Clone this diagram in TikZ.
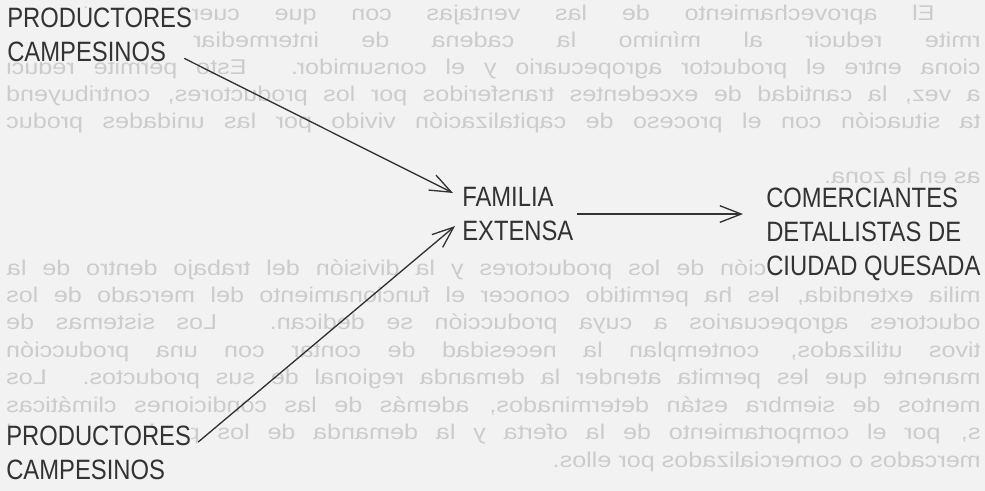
\documentclass[tikz,border=0pt]{standalone}
\usepackage{fontspec}
\usepackage{graphicx}
\usetikzlibrary{arrows.meta}
\newfontfamily\labfont[FakeStretch=0.85]{Liberation Sans}
\newfontfamily\bleedfont[FakeStretch=1.18]{Liberation Sans}
\definecolor{paper}{gray}{0.95}
\definecolor{ink}{gray}{0.2}
\definecolor{ghost}{gray}{0.80}
\newcommand{\fullrow}[1]{\reflectbox{\makebox[731pt][s]{#1}}}
\newcommand{\indrow}[1]{\reflectbox{\makebox[696pt][s]{#1}}}
\newcommand{\lastrow}[1]{\reflectbox{#1}}
\begin{document}
\begin{tikzpicture}[x=0.75pt,y=-0.75pt,
  lab/.style={font=\labfont\fontsize{21}{25.5}\selectfont, text=ink, align=left, inner sep=0pt, anchor=north west, fill=paper},
  ghosttext/.style={font=\bleedfont\fontsize{16}{20}\selectfont, text=ghost, inner sep=0pt, anchor=base east},
  arr/.style={draw=ink, line width=1pt, -{Straight Barb[length=16pt,width=12.5pt]}}]
\useasboundingbox (0,0) rectangle (985,491);
\fill[paper] (0,0) rectangle (985,491);
% show-through of the reverse page (mirrored, justified)
\begin{scope}
\clip (0,0) rectangle (985,491);
\node[ghosttext] (g1) at (935,21) {\indrow{El aprovechamiento de las ventajas con que cuentan estos g}};
\node[ghosttext] (g2) at (981,48) {\fullrow{rmite reducir al mínimo la cadena de intermediarios que ge}};
\node[ghosttext] (g3) at (981,75) {\fullrow{ciona entre el productor agropecuario y el consumidor. Esto permite reduci}};
\node[ghosttext] (g4) at (981,102) {\fullrow{a vez, la cantidad de excedentes transferidos por los productores, contribuyend}};
\node[ghosttext] (g5) at (981,129) {\fullrow{ta situación con el proceso de capitalización vivido por las unidades produc}};
\node[ghosttext] (g6) at (981,184) {\lastrow{as en la zona.}};
\node[ghosttext] (g7) at (935,276) {\indrow{La especialización de los productores y la división del trabajo dentro de la}};
\node[ghosttext] (g8) at (981,303) {\fullrow{milia extendida, les ha permitido conocer el funcionamiento del mercado de los}};
\node[ghosttext] (g9) at (981,330) {\fullrow{oductores agropecuarios a cuya producción se dedican. Los sistemas de}};
\node[ghosttext] (g10) at (981,358) {\fullrow{tivos utilizados, contemplan la necesidad de contar con una producción}};
\node[ghosttext] (g11) at (981,385) {\fullrow{manente que les permita atender la demanda regional de sus productos. Los}};
\node[ghosttext] (g12) at (981,412) {\fullrow{mentos de siembra están determinados, además de las condiciones climáticas}};
\node[ghosttext] (g13) at (981,440) {\fullrow{s, por el comportamiento de la oferta y la demanda de los productos en el}};
\node[ghosttext] (g14) at (981,467) {\lastrow{mercados o comercializados por ellos.}};
\end{scope}
% diagram
\node[lab] (prod1) at (7,8) {PRODUCTORES\\CAMPESINOS};
\node[lab] (fam) at (462,187) {FAMILIA\\EXTENSA};
\node[lab] (com) at (766,188) {COMERCIANTES\\DETALLISTAS DE\\CIUDAD QUESADA};
\node[lab] (prod2) at (6,426) {PRODUCTORES\\CAMPESINOS};
\draw[arr] ([shift={(-8,-4)}]prod1.south east) -- ([shift={(-9,6)}]fam.north west);
\draw[arr] ([shift={(7,16)}]prod2.north east) -- ([shift={(-7,-15)}]fam.south west);
\draw[arr] ([shift={(3,0)}]fam.east) -- ([shift={(-23,0)}]fam.east -| com.west);
\end{tikzpicture}
\end{document}
